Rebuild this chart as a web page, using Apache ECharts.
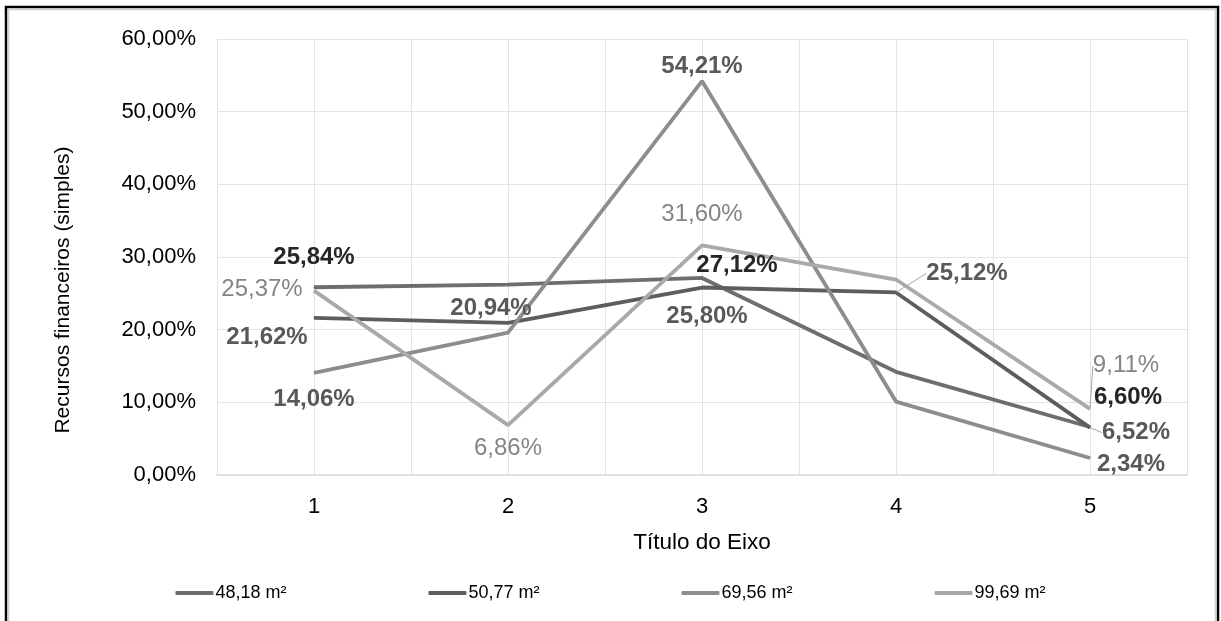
<!DOCTYPE html>
<html>
<head>
<meta charset="utf-8">
<script src="https://cdn.jsdelivr.net/npm/echarts@6/dist/echarts.min.js"></script>
<style>
  html, body { margin: 0; padding: 0; background: #ffffff; }
  #chart { width: 1221px; height: 621px; }
</style>
</head>
<body>
<div id="chart"></div>
<script>
// Categories on the horizontal axis
const categories = [1, 2, 3, 4, 5];

// Series names (legend)
const seriesNames = ['48,18 m²', '50,77 m²', '69,56 m²', '99,69 m²'];

// Values in percent for each series
const area4818 = [25.84, 26.20, 27.12, 14.20, 6.60];
const area5077 = [21.62, 20.94, 25.80, 25.12, 6.52];
const area6956 = [14.06, 19.60, 54.21, 10.10, 2.34];
const area9969 = [25.37, 6.86, 31.60, 26.90, 9.11];

// Which points carry a value label
const labelled = [
  [true, false, true, false, true],
  [true, true, true, true, true],
  [true, false, true, false, true],
  [true, true, true, false, true]
];

// Y axis range (percent)
const yMin = 0, yMax = 60, yStep = 10;

const values = [area4818, area5077, area6956, area9969];

// Label placement relative to each point (pixels)
const labelShift = [
  [[0, -30], null, [35, -13], null, [38, -30]],
  [[-47, 19], [-17, -14], [5, 29], [71, -19], [46, 5]],
  [[0, 27], null, [0, -15], null, [41, 6]],
  [[-52, -1], [0, 23], [0, -31], null, [36, -43]]
];
// Labels joined to their point by a leader line
const guided = [[], [3, 4], [], [4]];

const lineColors = ['#6e6e6e', '#5d5d5d', '#8d8d8d', '#a9a9a9'];
const labelStyles = [
  { color: '#262626', fontWeight: 'bold' },
  { color: '#595959', fontWeight: 'bold' },
  { color: '#595959', fontWeight: 'bold' },
  { color: '#858585', fontWeight: 'normal' }
];

const fmtPct = v => v.toFixed(2).replace('.', ',') + '%';
const FONT = 'Liberation Sans, Arial, sans-serif';

const series = values.map((vals, s) => ({
  name: seriesNames[s],
  type: 'line',
  symbol: 'circle',
  symbolSize: 1,
  showSymbol: true,
  lineStyle: { color: lineColors[s], width: 3.8 },
  itemStyle: { color: lineColors[s] },
  emphasis: { disabled: true },
  label: {
    show: true,
    position: 'inside',
    fontFamily: FONT,
    fontSize: 24,
    color: labelStyles[s].color,
    fontWeight: labelStyles[s].fontWeight,
    formatter: p => fmtPct(p.value[1])
  },
  labelLine: { show: false },
  labelLayout: p => {
    const o = labelShift[s][p.dataIndex];
    return o ? { dx: o[0], dy: o[1] } : {};
  },
  data: vals.map((v, i) => ({
    value: [categories[i], v],
    label: { show: labelled[s][i] },
    labelLine: {
      show: guided[s].indexOf(i) >= 0,
      lineStyle: { color: '#a6a6a6', width: 1 }
    }
  }))
}));

const chart = echarts.init(document.getElementById('chart'), null, { renderer: 'canvas' });
chart.setOption({
  animation: false,
  backgroundColor: '#ffffff',
  textStyle: { fontFamily: FONT },
  grid: { left: 217, right: 34, top: 39, bottom: 146 },
  legend: {
    data: seriesNames,
    top: 579,
    left: 'center',
    icon: 'roundRect',
    itemWidth: 38,
    itemHeight: 4,
    itemGap: 142,
    textStyle: { fontFamily: FONT, fontSize: 18, color: '#000000', padding: [0, 0, 0, -3] }
  },
  xAxis: {
    type: 'value',
    min: 0.5,
    max: 5.5,
    interval: 0.5,
    name: 'Título do Eixo',
    nameLocation: 'middle',
    nameGap: 56,
    nameTextStyle: { fontFamily: FONT, fontSize: 22.5, color: '#000000' },
    axisLine: { show: true, lineStyle: { color: '#d9d9d9', width: 1.5 } },
    axisTick: { show: false },
    axisLabel: {
      fontFamily: FONT, fontSize: 22, color: '#000000', margin: 21,
      formatter: v => (Number.isInteger(v) ? String(v) : '')
    },
    splitLine: { show: true, lineStyle: { color: '#e4e4e4', width: 1 } }
  },
  yAxis: {
    type: 'value',
    min: yMin,
    max: yMax,
    interval: yStep,
    name: 'Recursos financeiros (simples)',
    nameLocation: 'middle',
    nameGap: 143,
    nameTextStyle: { fontFamily: FONT, fontSize: 21, color: '#000000', padding: [0, 66, 0, 0] },
    axisLine: { show: false },
    axisTick: { show: false },
    axisLabel: {
      fontFamily: FONT, fontSize: 22, color: '#000000', margin: 21,
      formatter: v => fmtPct(v)
    },
    splitLine: { show: true, lineStyle: { color: '#e4e4e4', width: 1 } }
  },
  graphic: [
    {
      type: 'rect', silent: true, z: 100,
      shape: { x: 6, y: 7, width: 1212, height: 700 },
      style: { fill: 'none', stroke: '#000000', lineWidth: 2.5 }
    },
    {
      type: 'rect', silent: true, z: 100,
      shape: { x: 8.5, y: 9.5, width: 1207, height: 700 },
      style: { fill: 'none', stroke: '#d0d0d0', lineWidth: 1.5 }
    }
  ],
  series: series
});
</script>
</body>
</html>
